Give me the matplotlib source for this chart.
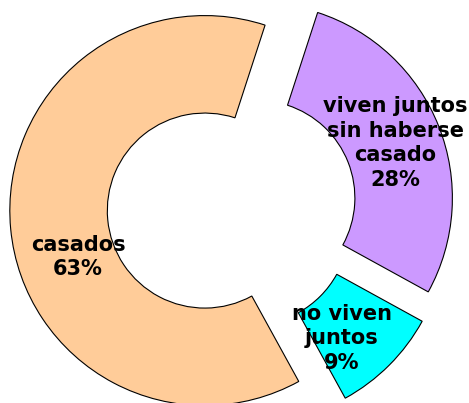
import matplotlib
matplotlib.use("Agg")
import matplotlib.pyplot as plt

# datos (porcentajes)
categorias = ["viven juntos\nsin haberse\ncasado", "no viven\njuntos", "casados"]
valores = [28, 9, 63]
colores = ["#CC99FF", "#00FFFF", "#FFCC99"]

# posiciones de las etiquetas (coordenadas del eje)
pos_etiquetas = [(0.836, 0.333), (0.564, -0.667), (-0.790, -0.251)]

fig = plt.figure(figsize=(4.69, 4.03), dpi=100)
ax = fig.add_axes([0, 0, 1, 1])

ax.pie(valores, colors=colores, startangle=72, counterclock=False,
       explode=[0.14] * len(valores), radius=1.0,
       wedgeprops=dict(width=0.5, edgecolor="black", linewidth=0.8))

for cat, v, (x, y) in zip(categorias, valores, pos_etiquetas):
    ax.text(x, y, f"{cat}\n{v}%", ha="center", va="center",
            fontsize=15, fontweight="bold", linespacing=1.28,
            family="DejaVu Sans")

ax.set_xlim(-232 / 195, (469 - 232) / 195)
ax.set_ylim(-195 / 195, 208 / 195)
ax.set_aspect("auto")
ax.axis("off")

fig.savefig("out.png", dpi=100)
